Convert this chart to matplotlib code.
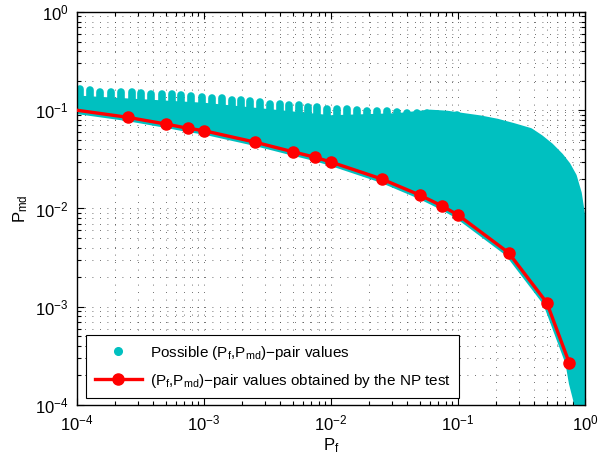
import matplotlib

matplotlib.use("Agg")
import matplotlib.pyplot as plt
from matplotlib.lines import Line2D
from matplotlib.ticker import LogLocator, NullFormatter

# NP test curve (P_f, P_md)
np_pf = [1e-4, 2.5e-4, 5e-4, 7.5e-4, 1e-3, 2.5e-3, 5e-3, 7.5e-3, 1e-2,
         2.5e-2, 5e-2, 7.5e-2, 1e-1, 2.5e-1, 5e-1, 7.5e-1]
np_pmd = [0.100, 0.0848, 0.0724, 0.0655, 0.0619, 0.0475, 0.0378, 0.0332, 0.0297,
          0.0200, 0.0137, 0.0106, 0.0086, 0.00355, 0.00110, 0.00027]

# upper edge of the cloud of possible pairs (marker centres)
cloud_top_pf = [9e-5, 1e-4, 1e-3, 1e-2, 3.3e-2, 0.0603, 0.0818, 0.109, 0.149, 0.203,
                0.271, 0.369, 0.443, 0.530, 0.635, 0.721, 0.805, 0.881, 0.931,
                0.958, 0.975, 0.982]
cloud_top_pmd = [0.129, 0.129, 0.109, 0.0814, 0.0853, 0.0927, 0.0905, 0.0858, 0.0811,
                 0.0750, 0.0679, 0.0604, 0.0516, 0.0428, 0.0338, 0.0274, 0.0212,
                 0.0142, 0.0089, 0.0050, 0.0020, 5e-5]

# lower tail of the cloud past the last NP point
cloud_tail_pf = [0.900, 0.885, 0.800]
cloud_tail_pmd = [5e-5, 1e-4, 1.67e-4]

# columns of points sticking out of the cloud (top marker centres)
tooth_pf = [1.06e-4, 1.27e-4, 1.52e-4, 1.84e-4, 2.22e-4, 2.69e-4, 3.22e-4, 3.86e-4,
            4.63e-4, 5.55e-4, 6.65e-4, 7.97e-4, 9.64e-4, 1.16e-3, 1.39e-3, 1.65e-3,
            1.95e-3, 2.30e-3, 2.76e-3, 3.31e-3, 3.97e-3, 4.67e-3, 5.55e-3, 6.59e-3,
            7.76e-3, 9.30e-3, 1.11e-2, 1.34e-2, 1.60e-2, 1.92e-2, 2.30e-2, 2.76e-2,
            3.31e-2, 3.96e-2, 4.77e-2, 5.72e-2, 6.86e-2, 8.20e-2, 9.80e-2]
tooth_pmd = [0.163, 0.159, 0.155, 0.155, 0.153, 0.152, 0.150, 0.148,
             0.146, 0.145, 0.143, 0.141, 0.138, 0.133, 0.132, 0.128,
             0.126, 0.123, 0.120, 0.117, 0.116, 0.113, 0.112, 0.109,
             0.107, 0.104, 0.103, 0.102, 0.101, 0.0993, 0.0985, 0.0973,
             0.0960, 0.0948, 0.0937, 0.0927, 0.0916, 0.0905, 0.0885]

CYAN = "#00C0C0"
RED = "#FF0000"

plt.rcParams["font.family"] = ["Liberation Sans", "DejaVu Sans"]
plt.rcParams["mathtext.fontset"] = "custom"
plt.rcParams["mathtext.rm"] = "Liberation Sans"
plt.rcParams["mathtext.it"] = "Liberation Sans:italic"
plt.rcParams["mathtext.default"] = "regular"

fig = plt.figure(figsize=(6.09, 4.65), dpi=100)
ax = fig.add_axes([77 / 609, 60 / 465, 508 / 609, 393 / 465])

# cloud body: top edge left->right, then tail and NP curve back right->left
poly_pf = cloud_top_pf + cloud_tail_pf + np_pf[::-1] + [9e-5]
poly_pmd = cloud_top_pmd + cloud_tail_pmd + np_pmd[::-1] + [np_pmd[0]]
ax.fill(poly_pf, poly_pmd, facecolor=CYAN, edgecolor=CYAN, linewidth=5.5,
        joinstyle="round", zorder=2)
ax.vlines(tooth_pf, [v * 0.72 for v in tooth_pmd], tooth_pmd, colors=CYAN,
          linewidth=5.5, capstyle="round", zorder=2)

ax.plot(np_pf, np_pmd, "-", color=RED, linewidth=2.4, marker="o",
        markersize=8, markevery=slice(1, None), zorder=3)

ax.set_xscale("log")
ax.set_yscale("log")
ax.set_xlim(1e-4, 1)
ax.set_ylim(1e-4, 1)

ax.xaxis.set_minor_locator(LogLocator(base=10, subs=range(2, 10), numticks=20))
ax.yaxis.set_minor_locator(LogLocator(base=10, subs=range(2, 10), numticks=20))
ax.xaxis.set_minor_formatter(NullFormatter())
ax.yaxis.set_minor_formatter(NullFormatter())
ax.grid(True, which="both", color="0.25", linestyle=(0, (1, 8)), linewidth=0.6)
ax.set_axisbelow(True)

ax.tick_params(which="both", direction="in", top=True, right=True,
               labelsize=12, width=0.8)
ax.tick_params(which="major", length=5, pad=6)
ax.tick_params(which="minor", length=3)
for spine in ax.spines.values():
    spine.set_linewidth(1.0)

ax.set_xlabel(r"$\mathrm{P_f}$", fontsize=12, labelpad=2)
ax.set_ylabel(r"$\mathrm{P_{md}}$", fontsize=12, labelpad=4)

handles = [
    Line2D([], [], linestyle="none", marker="o", markersize=5.5, color=CYAN),
    Line2D([], [], color=RED, linewidth=2.4, marker="o", markersize=8),
]
labels = [
    r"Possible ($\mathrm{P_f}$,$\mathrm{P_{md}}$)$-$pair values",
    r"($\mathrm{P_f}$,$\mathrm{P_{md}}$)$-$pair values obtained by the NP test",
]
leg = ax.legend(handles, labels, loc="lower left", bbox_to_anchor=(0.018, 0.018),
                borderaxespad=0, fontsize=11, frameon=True, fancybox=False,
                edgecolor="black", framealpha=1, handlelength=3.1,
                handletextpad=0.5, borderpad=0.55, labelspacing=0.65)
leg.get_frame().set_linewidth(0.8)

fig.savefig("out.png", dpi=100)
